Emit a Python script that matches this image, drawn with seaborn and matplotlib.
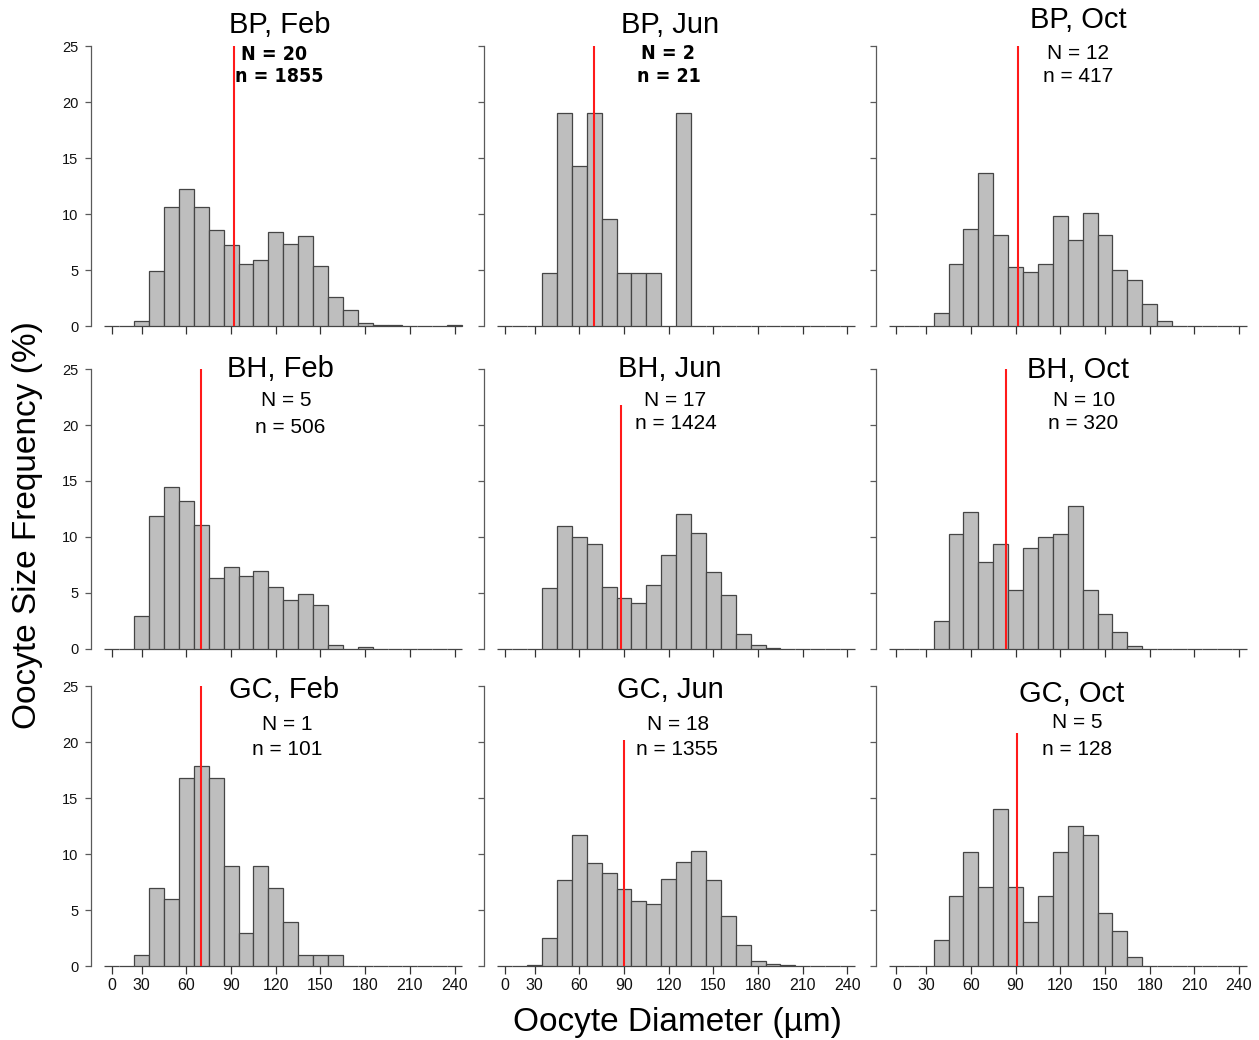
import numpy as np
import matplotlib
matplotlib.use("Agg")
import matplotlib.pyplot as plt
import seaborn as sns

# ---------------- data ----------------
# bin centres (µm), 10 µm wide bins
bin_centers = [10, 20, 30, 40, 50, 60, 70, 80, 90, 100, 110, 120, 130, 140,
               150, 160, 170, 180, 190, 200, 210, 220, 230, 240]
bin_edges = [5, 15, 25, 35, 45, 55, 65, 75, 85, 95, 105, 115, 125, 135, 145,
             155, 165, 175, 185, 195, 205, 215, 225, 235, 245]

# frequency (%) per bin, bins centred 10 ... 240
bp_feb = [0, 0, 0.45, 4.9, 10.6, 12.2, 10.6, 8.6, 7.2, 5.5, 5.9, 8.35, 7.35, 8.05,
          5.35, 2.6, 1.45, 0.3, 0.05, 0.05, 0, 0, 0, 0.05]
bp_jun = [0, 0, 0, 4.76, 19.05, 14.29, 19.05, 9.52, 4.76, 4.76, 4.76, 0, 19.05, 0,
          0, 0, 0, 0, 0, 0, 0, 0, 0, 0]
bp_oct = [0, 0, 0, 1.2, 5.52, 8.63, 13.67, 8.15, 5.28, 4.80, 5.52, 9.83, 7.67, 10.07,
          8.15, 5.04, 4.08, 1.92, 0.48, 0, 0, 0, 0, 0]
bh_feb = [0, 0, 2.96, 11.86, 14.43, 13.24, 11.07, 6.32, 7.31, 6.52, 6.92, 5.53, 4.35, 4.94,
          3.95, 0.40, 0, 0.20, 0, 0, 0, 0, 0, 0]
bh_jun = [0, 0, 0, 5.41, 10.96, 9.97, 9.34, 5.55, 4.58, 4.07, 5.69, 8.43, 12.01, 10.39,
          6.88, 4.78, 1.34, 0.35, 0.07, 0, 0, 0, 0, 0]
bh_oct = [0, 0, 0, 2.5, 10.31, 12.19, 7.81, 9.38, 5.31, 9.06, 10.0, 10.31, 12.81, 5.31,
          3.13, 1.56, 0.31, 0, 0, 0, 0, 0, 0, 0]
gc_feb = [0, 0, 0.99, 6.93, 5.94, 16.83, 17.82, 16.83, 8.91, 2.97, 8.91, 6.93, 3.96, 0.99,
          0.99, 0.99, 0, 0, 0, 0, 0, 0, 0, 0]
gc_jun = [0, 0, 0.07, 2.51, 7.68, 11.73, 9.23, 8.34, 6.86, 5.83, 5.54, 7.75, 9.30, 10.26,
          7.68, 4.43, 1.85, 0.44, 0.22, 0.07, 0, 0, 0, 0]
gc_oct = [0, 0, 0, 2.34, 6.25, 10.16, 7.03, 14.06, 7.03, 3.91, 6.25, 10.16, 12.5, 11.72,
          4.69, 3.13, 0.78, 0, 0, 0, 0, 0, 0, 0]

titles = ["BP, Feb", "BP, Jun", "BP, Oct",
          "BH, Feb", "BH, Jun", "BH, Oct",
          "GC, Feb", "GC, Jun", "GC, Oct"]
n_fish = [20, 2, 12, 5, 17, 10, 1, 18, 5]
n_oocytes = [1855, 21, 417, 506, 1424, 320, 101, 1355, 128]
mean_diam = [92.3, 69.8, 91.8, 69.6, 88.3, 83.8, 69.7, 90.0, 91.0]
mean_line_top = [25, 25, 25, 25, 21.8, 25, 25, 20.2, 20.8]

xtick_labels = ["0", "30", "60", "90", "120", "150", "180", "210", "240"]
ytick_values = [0, 5, 10, 15, 20, 25]

freqs = [bp_feb, bp_jun, bp_oct, bh_feb, bh_jun, bh_oct, gc_feb, gc_jun, gc_oct]

# ---------------- layout ----------------
title_xy = [(122.6, 26.9), (121.0, 26.9), (132.0, 27.3),
            (123.0, 25.0), (121.0, 25.0), (132.0, 24.9),
            (125.8, 24.6), (121.0, 24.6), (127.8, 24.3)]
N_xy = [(118.9, 24.2), (119.3, 24.3), (132.0, 24.3),
        (127.0, 22.2), (124.5, 22.2), (136.0, 22.2),
        (127.8, 21.6), (126.2, 21.6), (131.3, 21.7)]
n_xy = [(122.3, 22.3), (120.0, 22.3), (132.0, 22.3),
        (130.0, 19.8), (125.0, 20.1), (135.5, 20.1),
        (127.8, 19.3), (125.8, 19.3), (131.3, 19.3)]
bold_narrow = [True, True, False, False, False, False, False, False, False]
xtick_pos = [10, 30, 60, 90, 120, 150, 180, 210, 240]

W, H = 1259, 1040
sns.set_theme(style="white")
plt.rcParams["font.family"] = ["Liberation Sans", "DejaVu Sans"]

fig = plt.figure(figsize=(W / 100, H / 100), dpi=100)

col_left = [91.0, 483.9, 875.5]
row_bottom = [326, 649, 966]
ax_w = 372.5
ax_h = 280

bar_fill = "#BEBEBE"
bar_edge = "#454545"
spine_col = "#5a5a5a"

for i in range(9):
    r, c = divmod(i, 3)
    ax = fig.add_axes([col_left[c] / W, (H - row_bottom[r]) / H, ax_w / W, ax_h / H])
    sns.histplot(x=bin_centers, weights=freqs[i], bins=bin_edges, stat="count",
                 color=bar_fill, edgecolor=bar_edge, linewidth=0.9, alpha=1.0, ax=ax)
    for p in ax.patches:
        p.set_clip_on(False)
        p.set_facecolor(bar_fill)
    ax.vlines(mean_diam[i], 0, mean_line_top[i], color="#ff1a1a", lw=1.5, zorder=5)

    ax.set_xlim(-4, 246)
    ax.set_ylim(0, 25)
    ax.set_xlabel("")
    ax.set_ylabel("")
    for s in ["top", "right", "bottom"]:
        ax.spines[s].set_visible(False)
    ax.spines["left"].set_color(spine_col)
    ax.spines["left"].set_linewidth(0.9)
    ax.spines["left"].set_bounds(0, 25)

    ax.set_yticks(ytick_values)
    ax.set_xticks(xtick_pos)
    ax.set_xticklabels(xtick_labels)
    ax.tick_params(axis="y", direction="out", length=4.5, width=0.9, color=spine_col,
                   labelsize=10.5, pad=4.5, labelcolor="#111111", left=True,
                   labelleft=(c == 0))
    ax.tick_params(axis="x", direction="out", length=6, width=0.9, color="#333333",
                   labelsize=11.5, pad=2.5, labelcolor="#111111", bottom=True,
                   labelbottom=(r == 2))

    ax.text(title_xy[i][0], title_xy[i][1], titles[i], ha="center", va="center",
            fontsize=21, color="black", clip_on=False)
    if bold_narrow[i]:
        kw = dict(fontsize=14, fontweight="bold", fontstretch="condensed",
                  family=["DejaVu Sans"])
    else:
        kw = dict(fontsize=15, family=["Liberation Sans", "DejaVu Sans"])
    ax.text(N_xy[i][0], N_xy[i][1], f"N = {n_fish[i]}", ha="center", va="center",
            color="black", clip_on=False, **kw)
    ax.text(n_xy[i][0], n_xy[i][1], f"n = {n_oocytes[i]}", ha="center", va="center",
            color="black", clip_on=False, **kw)

fig.text(28 / W, 1 - 525 / H, "Oocyte Size Frequency (%)", rotation=90,
         ha="center", va="center", fontsize=24, color="black")
fig.text(677 / W, 1 - 1022 / H, "Oocyte Diameter (µm)", ha="center", va="center",
         fontsize=24, color="black")

fig.savefig("out.png", dpi=100, facecolor="white")
